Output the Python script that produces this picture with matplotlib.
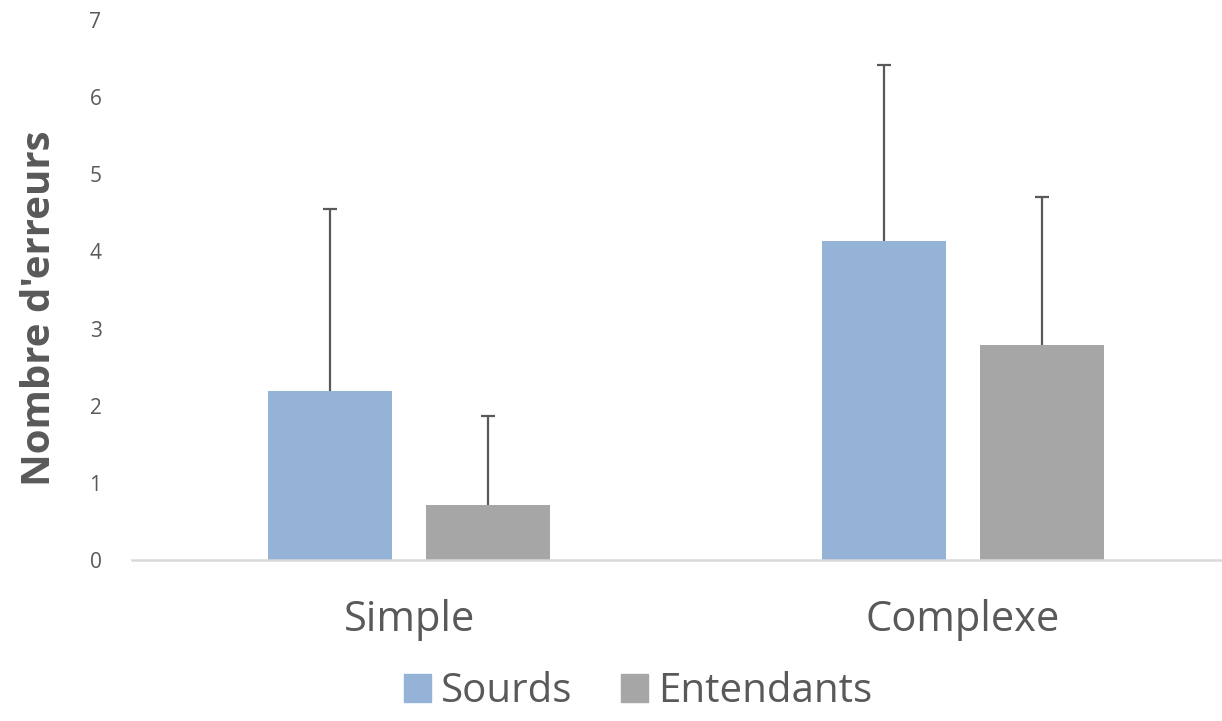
import numpy as np
import matplotlib.pyplot as plt
from matplotlib.patches import Patch

################################################################################
########    DATA
################################################################################

categories = ['Simple', 'Complexe']
series_names = ['Sourds', 'Entendants']
sourds = [2.19, 4.14]
sourds_err = [2.36, 2.28]
entendants = [0.71, 2.79]
entendants_err = [1.16, 1.91]
y_ticks = [0, 1, 2, 3, 4, 5, 6, 7]

################################################################################
########    PLOT
################################################################################

plt.rcParams['font.family'] = ['Open Sans', 'DejaVu Sans']
txt = '#595959'
c_sourds = '#95B3D7'
c_entend = '#A6A6A6'

fig = plt.figure(figsize=(12.22, 7.21), dpi=100)
ax = fig.add_axes([132/1222, 161/721, 1 - 132/1222, (560 - 20)/721])

x = np.arange(len(categories))
w = 0.224
off = 0.1426

ax.bar(x - off, sourds, w, color=c_sourds, zorder=2)
ax.bar(x + off, entendants, w, color=c_entend, zorder=2)

# upper error bars only, hide the cap at the bar top
for xs, vals, err in [(x - off, sourds, sourds_err),
                      (x + off, entendants, entendants_err)]:
    eb = ax.errorbar(xs, vals, yerr=[np.zeros(2), err], fmt='none',
                     ecolor=txt, elinewidth=1.6, capsize=5, capthick=1.6,
                     zorder=3)
    eb[1][0].set_visible(False)

ax.set_xlim(-0.5, 1.4675)
ax.set_ylim(0, 7)
ax.set_yticks(y_ticks)
ax.set_xticks(x)
ax.set_xticklabels(categories)
ax.tick_params(axis='y', length=0, pad=22, labelsize=15, labelcolor=txt)
ax.tick_params(axis='x', length=0, pad=28, labelsize=30, labelcolor=txt)

for s in ['top', 'right', 'left']:
    ax.spines[s].set_visible(False)
ax.spines['bottom'].set_color('#D9D9D9')
ax.spines['bottom'].set_linewidth(1.8)

ax.set_ylabel("Nombre d'erreurs", fontsize=29, fontweight='bold', color=txt)
ax.yaxis.set_label_coords(-0.067, 0.467)

handles = [Patch(color=c_sourds), Patch(color=c_entend)]
fig.legend(handles, series_names, loc='center', ncol=2, frameon=False,
           bbox_to_anchor=(0.522, 0.04), fontsize=29, labelcolor=txt,
           handlelength=0.68, handleheight=0.68, handletextpad=0.25,
           columnspacing=1.2)

plt.savefig('out.png', dpi=100)
